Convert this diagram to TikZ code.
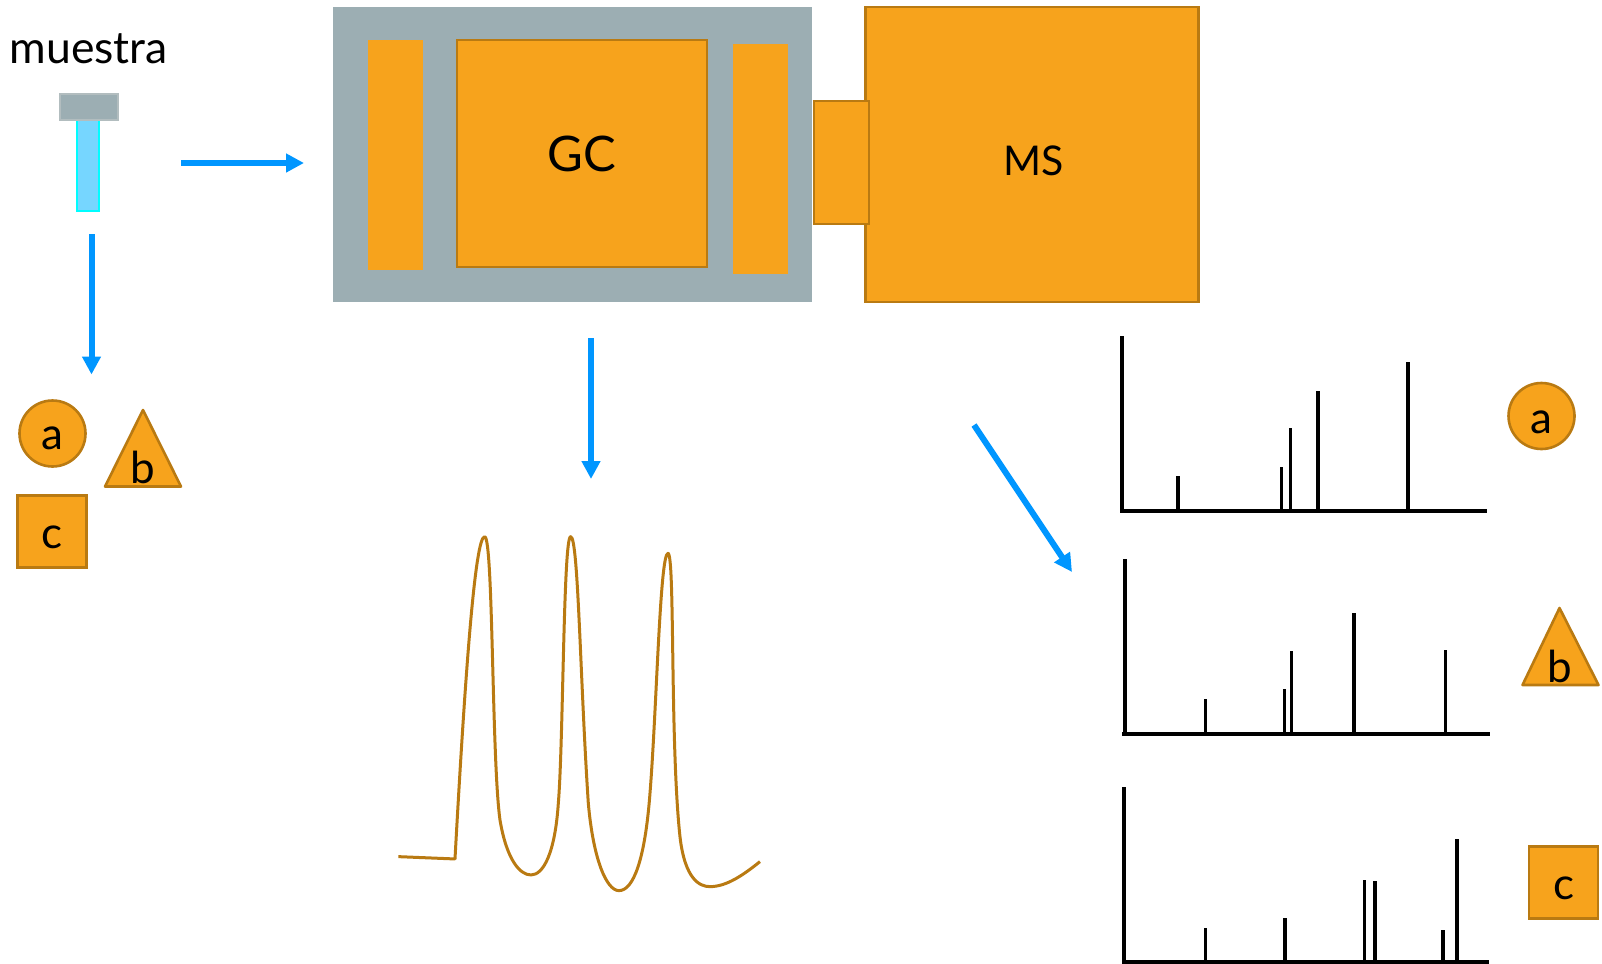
\documentclass[tikz,border=0pt]{standalone}
\usepackage{fontspec}
\setmainfont{Lato}
\usetikzlibrary{arrows.meta}
\definecolor{org}{HTML}{F7A31C}
\definecolor{orgline}{HTML}{B97A12}
\definecolor{slate}{HTML}{9CAEB3}
\definecolor{capline}{HTML}{B2BDBF}
\definecolor{flow}{HTML}{0096FF}
\definecolor{tubefill}{HTML}{76D6FF}
\definecolor{tubeline}{HTML}{00FDFF}
\tikzset{
  boxbase/.style={rectangle,inner sep=0pt,outer sep=0pt},
  plain/.style={boxbase,fill=org},
  lined/.style={boxbase,fill=org,draw=orgline,line width=2.6pt},
  lbl/.style={anchor=base,inner sep=0pt,font=\fontsize{44}{48}\selectfont,text=black},
  flowarrow/.style={draw=flow,line width=6pt,-{Triangle[length=18pt,width=18pt]}},
  axisline/.style={line width=4pt,black},
  peak/.style={line width=3.6pt,black},
  trace/.style={draw=orgline,line width=3pt,line join=round},
  shapeline/.style={fill=org,draw=orgline,line width=2.6pt,line join=round}
}
\begin{document}
\begin{tikzpicture}[x=1pt,y=-1pt]
\useasboundingbox (0,0) rectangle (1602,963);

% instrument
\node[boxbase,fill=slate,minimum width=479pt,minimum height=295pt] (oven) at (572.5,154.5) {};
\node[plain,minimum width=55pt,minimum height=229pt] (inlet) at (395.5,155) {};
\node[plain,minimum width=55pt,minimum height=229pt] (outlet) at (760.5,159) {};
\node[lined,minimum width=250pt,minimum height=227pt] (gc) at (582,153.5) {};
\node[lined,minimum width=333pt,minimum height=295pt] (ms) at (1032,154.5) {};
\node[lined,minimum width=55pt,minimum height=123pt] (iface) at (841.5,162.5) {};
\node[lbl,font=\fontsize{49}{52}\selectfont] (gclabel) at (582,171) {GC};
\node[lbl,font=\fontsize{41}{48}\selectfont] (mslabel) at (1034,175.5) {MS};

% sample vial
\node[lbl,anchor=base west,font=\fontsize{44.5}{48}\selectfont] (muestra) at (9.5,64) {muestra};
\node[boxbase,fill=tubefill,draw=tubeline,line width=2pt,minimum width=22pt,minimum height=91pt] (tube) at (87.5,165.5) {};
\node[boxbase,fill=slate,draw=capline,line width=2.4pt,minimum width=58pt,minimum height=26pt] (cap) at (89,107) {};

% arrows
\coordinate (a1s) at (181,163); \coordinate (a1e) at (304,163);
\coordinate (a2s) at (91.5,234); \coordinate (a2e) at (91.5,374.5);
\coordinate (a3s) at (591,338); \coordinate (a3e) at (591,479);
\coordinate (a4s) at (974,425); \coordinate (a4e) at (1072,572);
\draw[flowarrow] (a1s) -- (a1e);
\draw[flowarrow] (a2s) -- (a2e);
\draw[flowarrow] (a3s) -- (a3e);
\draw[flowarrow] (a4s) -- (a4e);

% mixture shapes
\node[circle,shapeline,inner sep=0pt,minimum size=66pt] (ca) at (52.5,433.5) {};
\draw[shapeline] (143,410) -- (181,486.5) -- (105,486.5) -- cycle;
\node[lined,minimum width=69pt,minimum height=72pt] (sc) at (52,531.5) {};
\node[lbl] (la) at (52,449) {a};
\node[lbl] (lb) at (143,483) {b};
\node[lbl] (lc) at (52,548) {c};

% chromatogram
\begin{scope}[shift={(380,510)},x=0.3333pt,y=-0.3333pt]
\draw[trace] (55,1040) -- (225,1047)
  .. controls (255,500) and (285,80) .. (314,80)
  .. controls (340,80) and (335,750) .. (360,930)
  .. controls (380,1050) and (420,1095) .. (453,1095)
  .. controls (490,1095) and (525,1030) .. (535,880)
  .. controls (550,700) and (550,80) .. (572,80)
  .. controls (595,80) and (600,500) .. (625,880)
  .. controls (640,1050) and (680,1142) .. (717,1142)
  .. controls (760,1142) and (795,1050) .. (810,850)
  .. controls (830,600) and (840,130) .. (864,130)
  .. controls (885,130) and (870,700) .. (900,980)
  .. controls (915,1110) and (960,1130) .. (990,1130)
  .. controls (1040,1130) and (1090,1095) .. (1140,1055);
\end{scope}

% spectrum a
\draw[axisline] (1122,336) -- (1122,511);
\draw[axisline] (1120,511) -- (1487,511);
\foreach \px/\py in {1178/476,1281.5/467,1290.5/428,1318/391,1408/362}
  \draw[peak] (\px,\py) -- (\px,511);
\node[circle,shapeline,inner sep=0pt,minimum size=66pt] (ra) at (1541.5,416) {};
\node[lbl] (rla) at (1541,433) {a};

% spectrum b
\draw[axisline] (1125,559) -- (1125,734);
\draw[axisline] (1122,734) -- (1490,734);
\foreach \px/\py in {1205.5/699,1284.5/689,1291.5/651,1354/613,1445.5/650}
  \draw[peak] (\px,\py) -- (\px,734);
\draw[shapeline] (1559.5,608) -- (1598.5,685) -- (1522.5,685) -- cycle;
\node[lbl] (rlb) at (1560,682) {b};

% spectrum c
\draw[axisline] (1124,787) -- (1124,962);
\draw[axisline] (1122,962) -- (1489,962);
\foreach \px/\py in {1205.5/928,1285/918,1364.5/880,1375/881,1443/930}
  \draw[peak] (\px,\py) -- (\px,962);
\draw[peak] (1457,839) -- (1457,959.5);
\node[lined,minimum width=69pt,minimum height=72pt] (rc) at (1563.5,882.5) {};
\node[lbl] (rlc) at (1563.5,899) {c};
\end{tikzpicture}
\end{document}
